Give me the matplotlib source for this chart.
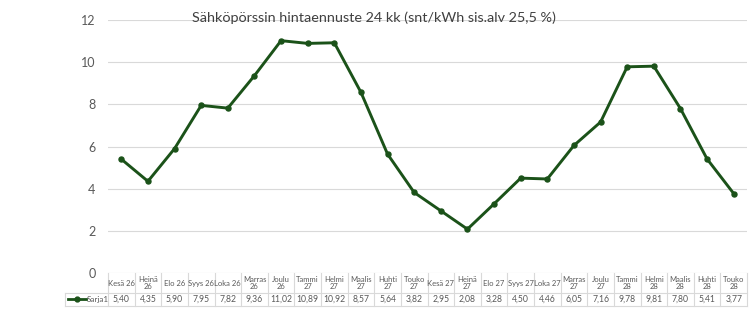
import matplotlib.pyplot as plt
from matplotlib.lines import Line2D

plt.rcParams['font.family'] = ['Lato', 'DejaVu Sans']

months = ['Kesä 26', 'Heinä\n26', 'Elo 26', 'Syys 26', 'Loka 26', 'Marras\n26', 'Joulu\n26',
          'Tammi\n27', 'Helmi\n27', 'Maalis\n27', 'Huhti\n27', 'Touko\n27', 'Kesä 27', 'Heinä\n27',
          'Elo 27', 'Syys 27', 'Loka 27', 'Marras\n27', 'Joulu\n27', 'Tammi\n28', 'Helmi\n28',
          'Maalis\n28', 'Huhti\n28', 'Touko\n28']
prices = [5.40, 4.35, 5.90, 7.95, 7.82, 9.36, 11.02, 10.89, 10.92, 8.57, 5.64, 3.82,
          2.95, 2.08, 3.28, 4.50, 4.46, 6.05, 7.16, 9.78, 9.81, 7.80, 5.41, 3.77]
yticks = [0, 2, 4, 6, 8, 10, 12]
series_name = 'Sarja1'
title = 'Sähköpörssin hintaennuste 24 kk (snt/kWh sis.alv 25,5 %)'

green = '#1b5219'
grid_c = '#d9d9d9'
txt_c = '#595959'

fig = plt.figure(figsize=(7.5, 3.15), dpi=100)
ax = fig.add_axes([0.144, 0.1333, 0.852, 0.8032])
n = len(prices)
xs = list(range(n))
ax.plot(xs, prices, color=green, lw=2.1, marker='o', ms=3.6, zorder=3)
ax.set_xlim(-0.5, n - 0.5)
ax.set_ylim(0, 12)
ax.set_yticks(yticks)
ax.set_yticklabels([str(t) for t in yticks], color=txt_c, fontsize=9)
ax.tick_params(axis='y', length=0, pad=9)
ax.set_xticks([])
for s in ax.spines.values():
    s.set_visible(False)
for t in yticks:
    ax.axhline(t, color=grid_c, lw=0.8, zorder=1)

fig.text(0.499, 0.945, title, ha='center', va='center', fontsize=10.4, color='#404040')

# data table below the plot
tr = ax.get_xaxis_transform()
h_top = 0.0
h_bot = -0.079
d_bot = -0.13
for i in range(n + 1):
    x = i - 0.5
    ax.plot([x, x], [h_top, d_bot], transform=tr, color=grid_c, lw=0.8, clip_on=False)
ax.plot([-0.5, n - 0.5], [h_bot, h_bot], transform=tr, color=grid_c, lw=0.8, clip_on=False)
ax.plot([-2.1, n - 0.5], [d_bot, d_bot], transform=tr, color=grid_c, lw=0.8, clip_on=False)
ax.plot([-2.1, -0.5], [h_bot, h_bot], transform=tr, color=grid_c, lw=0.8, clip_on=False)
ax.plot([-2.1, -2.1], [h_bot, d_bot], transform=tr, color=grid_c, lw=0.8, clip_on=False)
for i, (m, p) in enumerate(zip(months, prices)):
    ax.text(i, (h_top + h_bot) / 2, m, transform=tr, ha='center', va='center',
            fontsize=5.5, color=txt_c, linespacing=1.15)
    ax.text(i, (h_bot + d_bot) / 2, f'{p:.2f}'.replace('.', ','), transform=tr,
            ha='center', va='center', fontsize=6.2, color=txt_c)
yl = (h_bot + d_bot) / 2
ax.add_line(Line2D([-2.02, -1.33], [yl, yl], transform=tr, color=green, lw=2, clip_on=False))
ax.add_line(Line2D([-1.68], [yl], transform=tr, color=green, marker='o', ms=3.5, clip_on=False))
ax.text(-1.3, yl, series_name, transform=tr, ha='left', va='center',
        fontsize=5.8, color=txt_c)

fig.savefig('out.png', dpi=100)
